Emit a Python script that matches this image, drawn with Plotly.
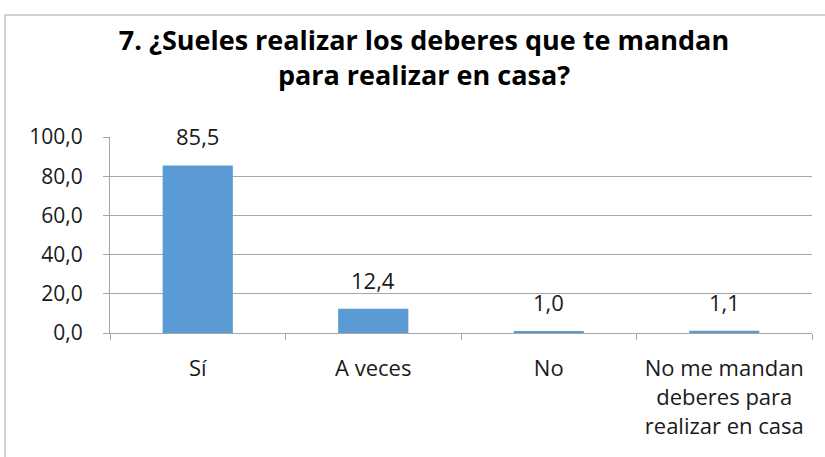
import plotly.graph_objects as go

categories = ["Sí", "A veces", "No", "No me mandan<br>deberes para<br>realizar en casa"]
values = [85.5, 12.4, 1.0, 1.1]
labels = ["85,5", "12,4", "1,0", "1,1"]
tick_vals = [0, 20, 40, 60, 80, 100]
tick_text = ["0,0", "20,0", "40,0", "60,0", "80,0", "100,0"]
title_text = "7. ¿Sueles realizar los deberes que te mandan<br>para realizar en casa?"

W, H = 825, 457
L, R, T, B = 110, 13, 137, 124
pw = W - L - R
ph = H - T - B
FS = 22

fig = go.Figure()
fig.add_trace(go.Bar(
    x=categories, y=values,
    marker=dict(color="#5B9BD5", line=dict(width=0)),
    hoverinfo="skip",
))

for c, v, t in zip(categories, values, labels):
    fig.add_annotation(x=c, y=v, text=t, showarrow=False, yanchor="bottom",
                       yshift=12, font=dict(family="Open Sans", size=FS, color="#1a1a1a"))

# outer chart border (only top/left visible)
fig.add_shape(type="rect", xref="paper", yref="paper",
              x0=(5 - L) / pw, x1=(W + 10 - L) / pw,
              y0=-1.5, y1=(H - B - 15) / ph,
              line=dict(color="#A6A6A6", width=1), layer="below")

fig.update_layout(
    width=W, height=H,
    margin=dict(l=L, r=R, t=T, b=B),
    paper_bgcolor="white", plot_bgcolor="white",
    bargap=0.6,
    showlegend=False,
    title=dict(text=title_text, x=424 / W, xanchor="center", xref="container",
               y=1 - 50 / H, yanchor="top", yref="container",
               font=dict(family="Open Sans", size=27, color="#000000", weight="bold")),
    font=dict(family="Open Sans", size=FS, color="#1a1a1a"),
    xaxis=dict(showline=True, linecolor="#A6A6A6", linewidth=1,
               ticks="outside", tickcolor="#A6A6A6", ticklen=6, tickson="boundaries",
               showgrid=False, tickfont=dict(size=FS), ticklabelstandoff=16,
               fixedrange=True),
    yaxis=dict(range=[0, 100], tickvals=tick_vals, ticktext=tick_text,
               showline=True, linecolor="#A6A6A6", linewidth=1,
               ticks="outside", tickcolor="#A6A6A6", ticklen=6,
               showgrid=True, gridcolor="#A6A6A6", gridwidth=1,
               zeroline=False, tickfont=dict(size=21), ticklabelstandoff=16,
               fixedrange=True),
)

fig.write_html("out.html", config={"displayModeBar": False},
               post_script="document.body.style.margin='0';")
